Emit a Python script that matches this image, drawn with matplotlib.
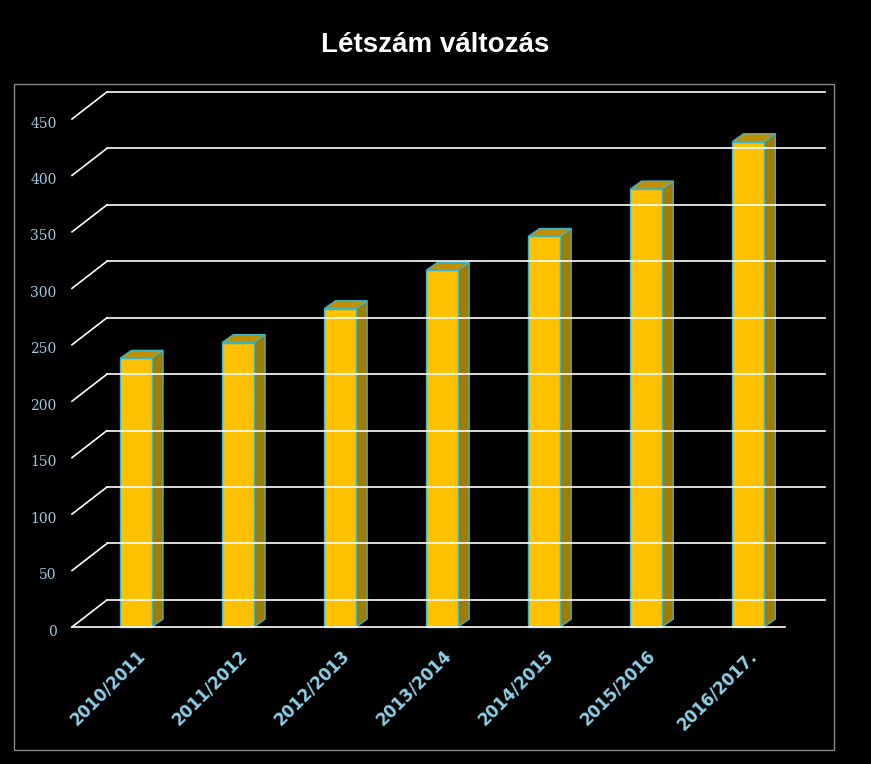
import matplotlib.pyplot as plt
from matplotlib.patches import Polygon, Rectangle

categories = ['2010/2011', '2011/2012', '2012/2013', '2013/2014', '2014/2015', '2015/2016', '2016/2017.']
values = [238, 252, 282, 316, 346, 388, 430]
yticks = [0, 50, 100, 150, 200, 250, 300, 350, 400, 450]

W, H = 871, 764
fig = plt.figure(figsize=(W / 100, H / 100), dpi=100, facecolor='black')
# outer frame
fig.patches.append(Rectangle((14 / W, 14 / H), 820 / W, 666 / H, transform=fig.transFigure,
                             fill=False, edgecolor='#888888', lw=1))
fig.text(0.5, 1 - 45 / H, 'Létszám változás', color='white', fontsize=20, fontweight='bold',
         ha='center', va='center', family='Liberation Sans')

ax = fig.add_axes([72 / W, (H - 627) / H, (785 - 72) / W, 508 / H])
ax.set_facecolor('black')
ax.set_xlim(-0.627, 6.36)
ax.set_ylim(0, 450)
for s in ax.spines.values():
    s.set_visible(False)

gdx, gdy = 0.343, 24   # depth of the grid
bdx, bdy = 0.11, 7     # depth of the bars
xl, xr = -0.627, 6.75
for v in yticks:
    ax.plot([xl, xl + gdx], [v, v + gdy], color='white', lw=1.2, clip_on=False)
    ax.plot([xl + gdx, xr], [v + gdy, v + gdy], color='white', lw=1.2, clip_on=False)
    ax.text(xl - 0.15, v - 4, str(v), color='#9cc8e0', fontsize=10, ha='right', va='center',
            family='DejaVu Serif')
ax.plot([xl, 6.36], [0, 0], color='white', lw=1.2, clip_on=False)

bw = 0.31
edge = '#3cb4c8'
for i, v in enumerate(values):
    x0, x1 = i - bw / 2, i + bw / 2
    ax.add_patch(Polygon([(x1, 0), (x1 + bdx, bdy), (x1 + bdx, v + bdy), (x1, v)],
                         closed=True, facecolor='#a07c00', edgecolor=edge, lw=1, clip_on=False))
    ax.add_patch(Polygon([(x0, v), (x0 + bdx, v + bdy), (x1 + bdx, v + bdy), (x1, v)],
                         closed=True, facecolor='#c09000', edgecolor=edge, lw=1, clip_on=False))
    ax.add_patch(Rectangle((x0, 0), bw, v, facecolor='#ffc000', edgecolor=edge, lw=1, clip_on=False))

ax.set_xticks(range(len(categories)))
ax.set_xticklabels(categories, rotation=45, ha='right', rotation_mode='anchor',
                   color='#8cd0e8', fontsize=12, fontweight='bold')
ax.tick_params(length=0, pad=14)
ax.set_yticks([])

fig.savefig('out.png', dpi=100, facecolor='black')
